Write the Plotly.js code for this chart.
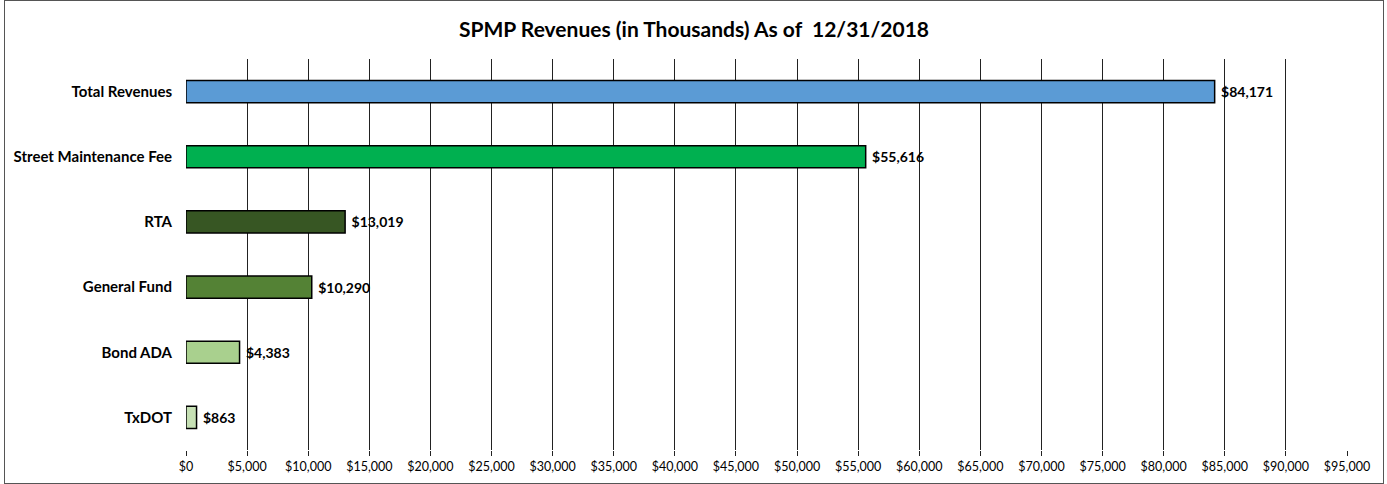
<!DOCTYPE html>
<html>
<head>
<meta charset="utf-8">
<script src="https://cdn.plot.ly/plotly-3.0.1.min.js"></script>
<style>
  body { margin: 0; background: #fff; }
  #chart { position: absolute; left: 4px; top: 0; width: 1378px; height: 482px; border: 1px solid #555; }
</style>
</head>
<body>
<div id="chart"></div>
<script>
const categories = ['Total Revenues', 'Street Maintenance Fee', 'RTA', 'General Fund', 'Bond ADA', 'TxDOT'];
const revenues = [84171, 55616, 13019, 10290, 4383, 863];
const barColors = ['#5B9BD5', '#00B050', '#375623', '#548235', '#A9D08E', '#C6E0B4'];

function drawChart() {
    const chartDiv = document.getElementById('chart');

    // small leading gap like the original labels
    const labels = revenues.map(v => '\u00a0$' + v.toLocaleString('en-US'));

    Plotly.newPlot(chartDiv, [{
        type: 'bar',
        orientation: 'h',
        x: revenues,
        y: categories,
        width: 0.34,
        marker: { color: barColors, line: { color: '#000', width: 1.5 } },
        text: labels,
        textposition: 'outside',
        cliponaxis: false,
        textfont: { family: 'Lato, sans-serif', size: 14, color: '#000', weight: 'bold' },
        hoverinfo: 'y+x'
    }], {
        title: {
            text: '<b>SPMP Revenues (in Thousands) As of  12/31/2018</b>',
            font: { family: 'Lato, sans-serif', size: 21, color: '#000' },
            x: 0.5, xanchor: 'center', y: 0.94, yanchor: 'middle'
        },
        showlegend: false,
        margin: { l: 181, r: 36, t: 58, b: 33 },
        paper_bgcolor: '#fff',
        plot_bgcolor: '#fff',
        xaxis: {
            range: [0, 95000],
            dtick: 5000,
            tickprefix: '$',
            tickformat: ',d',
            showgrid: true,
            gridcolor: '#222',
            gridwidth: 1,
            zeroline: false,
            ticks: 'outside',
            ticklen: 5,
            tickcolor: '#222',
            tickfont: { family: 'Lato, sans-serif', size: 12.5, color: '#000' },
            showline: false
        },
        yaxis: {
            autorange: 'reversed',
            showgrid: false,
            zeroline: false,
            ticks: '',
            ticklabelstandoff: 13,
            tickfont: { family: 'Lato, sans-serif', size: 15, color: '#000', weight: 'bold' }
        },
        font: { family: 'Lato, sans-serif' }
    }, { displayModeBar: false });
}

window.addEventListener('load', drawChart);
</script>
</body>
</html>
